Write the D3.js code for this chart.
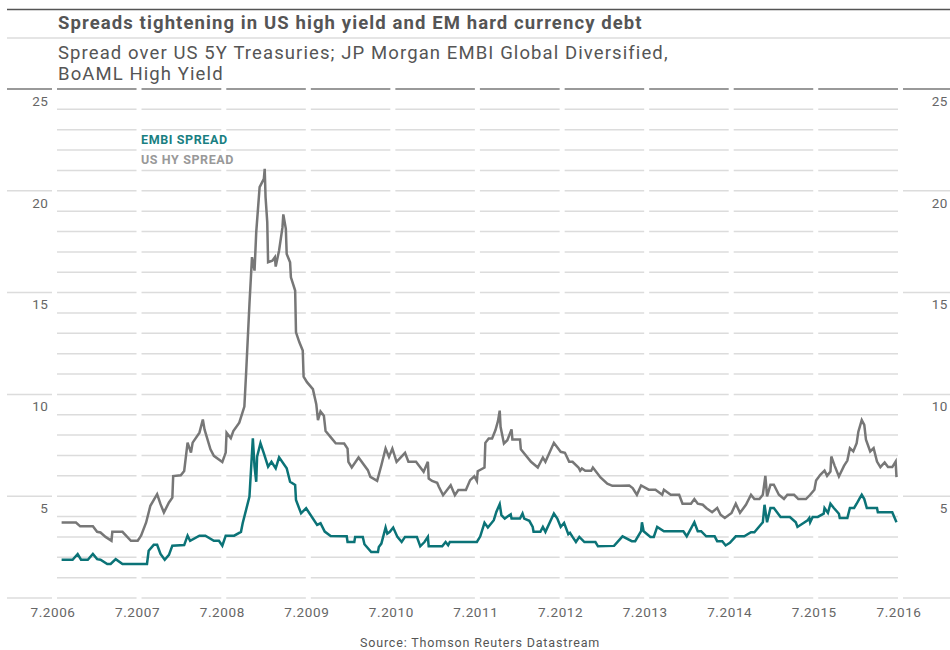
<!DOCTYPE html>
<html>
<head>
<meta charset="utf-8">
<script src="https://cdnjs.cloudflare.com/ajax/libs/d3/7.8.5/d3.min.js"></script>
<style>
  body { margin: 0; background: #fff; }
  svg text { font-family: Roboto, "Open Sans", sans-serif; }
</style>
</head>
<body>
<script>
// Data (decimal years, spread in %)
var hyDates = [2006.58, 2006.75, 2006.80, 2006.95, 2007.00, 2007.04, 2007.10, 2007.17, 2007.18, 2007.30,
  2007.40, 2007.48, 2007.52, 2007.58, 2007.63, 2007.71, 2007.75, 2007.79, 2007.85, 2007.89,
  2007.90, 2007.99, 2008.03, 2008.07, 2008.11, 2008.13, 2008.21, 2008.25, 2008.27, 2008.34,
  2008.38, 2008.48, 2008.52, 2008.53, 2008.58, 2008.61, 2008.68, 2008.74, 2008.76, 2008.80,
  2008.83, 2008.86, 2008.88, 2008.92, 2008.97, 2008.98, 2008.99, 2009.01, 2009.02, 2009.07,
  2009.10, 2009.11, 2009.15, 2009.19, 2009.20, 2009.23, 2009.24, 2009.28, 2009.29, 2009.34,
  2009.35, 2009.39, 2009.43, 2009.44, 2009.48, 2009.55, 2009.59, 2009.61, 2009.64, 2009.68,
  2009.70, 2009.76, 2009.82, 2009.92, 2009.96, 2009.97, 2010.01, 2010.09, 2010.20, 2010.23,
  2010.31, 2010.36, 2010.41, 2010.45, 2010.49, 2010.54, 2010.64, 2010.68, 2010.77, 2010.86,
  2010.91, 2010.92, 2010.96, 2011.02, 2011.04, 2011.09, 2011.18, 2011.23, 2011.27, 2011.36,
  2011.41, 2011.46, 2011.49, 2011.50, 2011.58, 2011.59, 2011.63, 2011.67, 2011.71, 2011.74,
  2011.76, 2011.77, 2011.81, 2011.85, 2011.90, 2011.91, 2012.00, 2012.01, 2012.13, 2012.21,
  2012.27, 2012.30, 2012.40, 2012.48, 2012.53, 2012.58, 2012.62, 2012.69, 2012.71, 2012.73,
  2012.77, 2012.84, 2012.86, 2012.95, 2013.03, 2013.09, 2013.19, 2013.29, 2013.33, 2013.38,
  2013.43, 2013.52, 2013.60, 2013.68, 2013.70, 2013.78, 2013.88, 2013.92, 2014.02, 2014.06,
  2014.10, 2014.16, 2014.20, 2014.27, 2014.33, 2014.37, 2014.42, 2014.50, 2014.55, 2014.60,
  2014.67, 2014.73, 2014.77, 2014.83, 2014.87, 2014.90, 2014.92, 2014.96, 2015.00, 2015.06,
  2015.12, 2015.16, 2015.24, 2015.29, 2015.38, 2015.43, 2015.48, 2015.50, 2015.55, 2015.60,
  2015.63, 2015.67, 2015.68, 2015.72, 2015.77, 2015.83, 2015.87, 2015.90, 2015.94, 2015.98,
  2016.00, 2016.04, 2016.07, 2016.09, 2016.14, 2016.18, 2016.22, 2016.26, 2016.31, 2016.35,
  2016.40, 2016.44, 2016.45];
var hySpread = [3.71, 3.71, 3.52, 3.52, 3.25, 3.22, 3.0, 2.81, 3.25, 3.25,
  2.81, 2.81, 3.06, 3.71, 4.53, 5.10, 4.61, 4.20, 4.69, 4.93,
  5.99, 6.03, 6.24, 7.63, 7.14, 7.63, 8.12, 8.77, 8.28, 7.30,
  6.98, 6.68, 7.14, 8.12, 7.85, 8.2, 8.61, 9.4, 11.0, 14.44,
  16.74, 16.08, 17.97, 20.18, 20.59, 21.08, 19.69, 18.46, 16.49, 16.57,
  16.74, 16.28, 17.07, 18.2, 18.84, 18.13, 16.9, 16.49, 15.75, 15.1,
  13.05, 12.56, 12.15, 10.87, 10.6, 10.26, 9.52, 8.74, 9.16, 8.95,
  8.2, 7.9, 7.6, 7.59, 7.34, 6.69, 6.41, 6.9, 6.28, 5.95,
  5.75, 6.52, 7.34, 6.93, 7.34, 6.69, 7.13, 6.69, 6.69, 6.2,
  6.69, 5.87, 5.75, 5.66, 5.46, 5.05, 5.54, 5.05, 5.3, 5.3,
  5.79, 5.98, 5.75, 6.23, 6.41, 7.62, 7.84, 7.84, 8.25, 8.7,
  9.2, 8.41, 7.59, 7.75, 8.28, 7.79, 7.79, 7.3, 6.69, 6.41,
  6.9, 6.69, 7.62, 7.18, 7.13, 6.69, 6.69, 6.41, 6.25, 6.36,
  6.25, 6.25, 6.41, 5.92, 5.62, 5.51, 5.51, 5.53, 5.4, 5.07,
  5.53, 5.32, 5.32, 5.07, 5.32, 5.07, 5.07, 4.63, 4.63, 4.86,
  4.63, 4.58, 4.42, 4.21, 4.42, 4.09, 3.93, 4.18, 4.63, 4.18,
  4.58, 5.07, 4.86, 4.86, 5.07, 6.0, 4.99, 5.56, 5.56, 5.07,
  4.86, 5.07, 5.07, 4.86, 4.86, 5.07, 5.32, 5.77, 6.05, 6.26,
  6.0, 6.21, 6.95, 6.49, 5.97, 6.49, 6.75, 7.36, 7.2, 7.6,
  8.17, 8.74, 8.5, 7.77, 7.2, 7.36, 6.7, 6.43, 6.66, 6.43,
  6.43, 6.7, 5.94];

var embiDates = [2006.58, 2006.71, 2006.77, 2006.81, 2006.89, 2006.95, 2007.00, 2007.04, 2007.12, 2007.16,
  2007.22, 2007.30, 2007.59, 2007.61, 2007.67, 2007.71, 2007.75, 2007.80, 2007.85, 2007.89,
  2008.03, 2008.07, 2008.10, 2008.21, 2008.28, 2008.38, 2008.44, 2008.48, 2008.52, 2008.62,
  2008.70, 2008.72, 2008.80, 2008.84, 2008.86, 2008.88, 2008.89, 2008.93, 2008.97, 2009.02,
  2009.06, 2009.11, 2009.15, 2009.24, 2009.28, 2009.34, 2009.35, 2009.41, 2009.47, 2009.60,
  2009.64, 2009.69, 2009.76, 2009.95, 2009.96, 2010.04, 2010.05, 2010.14, 2010.16, 2010.24,
  2010.32, 2010.33, 2010.36, 2010.41, 2010.43, 2010.46, 2010.50, 2010.55, 2010.60, 2010.64,
  2010.78, 2010.82, 2010.87, 2010.91, 2010.92, 2011.08, 2011.12, 2011.15, 2011.17, 2011.49,
  2011.53, 2011.58, 2011.62, 2011.69, 2011.72, 2011.76, 2011.78, 2011.82, 2011.89, 2011.90,
  2012.00, 2012.03, 2012.05, 2012.11, 2012.15, 2012.16, 2012.24, 2012.27, 2012.30, 2012.40,
  2012.44, 2012.48, 2012.52, 2012.57, 2012.59, 2012.62, 2012.66, 2012.70, 2012.76, 2012.89,
  2012.92, 2013.11, 2013.21, 2013.32, 2013.36, 2013.43, 2013.44, 2013.46, 2013.54, 2013.58,
  2013.62, 2013.70, 2013.93, 2013.97, 2014.06, 2014.10, 2014.14, 2014.20, 2014.30, 2014.33,
  2014.39, 2014.43, 2014.48, 2014.55, 2014.65, 2014.73, 2014.77, 2014.87, 2014.89, 2014.92,
  2014.96, 2015.00, 2015.08, 2015.19, 2015.26, 2015.28, 2015.40, 2015.42, 2015.43, 2015.46,
  2015.52, 2015.59, 2015.60, 2015.64, 2015.67, 2015.71, 2015.77, 2015.78, 2015.87, 2015.90,
  2015.95, 2015.98, 2016.01, 2016.04, 2016.07, 2016.10, 2016.22, 2016.23, 2016.40, 2016.45];
var embiSpread = [1.88, 1.88, 2.16, 1.88, 1.88, 2.16, 1.91, 1.88, 1.67, 1.67,
  1.91, 1.67, 1.67, 2.32, 2.61, 2.61, 2.16, 1.88, 2.12, 2.57,
  2.6, 3.06, 2.81, 3.06, 3.06, 2.81, 2.81, 2.57, 3.06, 3.06,
  3.25, 3.67, 4.98, 7.84, 6.45, 5.71, 6.94, 7.6, 7.1, 6.45,
  6.69, 6.37, 6.91, 6.37, 5.71, 5.55, 4.81, 4.16, 4.41, 3.59,
  3.67, 3.26, 3.05, 3.03, 2.75, 2.75, 3.0, 3.0, 2.64, 2.26,
  2.26, 2.51, 2.67, 3.46, 3.16, 3.25, 3.46, 3.0, 2.75, 3.0,
  3.0, 2.54, 2.75, 3.0, 2.54, 2.54, 2.75, 2.59, 2.75, 2.75,
  3.03, 3.69, 3.46, 3.82, 4.23, 4.61, 4.07, 3.9, 4.11, 3.9,
  3.9, 4.15, 3.9, 3.79, 3.49, 3.25, 3.25, 3.49, 3.25, 4.15,
  3.9, 3.49, 3.69, 3.13, 3.2, 3.0, 2.75, 3.0, 2.75, 2.75,
  2.54, 2.56, 3.03, 2.79, 2.79, 3.28, 3.72, 3.28, 3.0, 3.0,
  3.49, 3.28, 3.28, 3.03, 3.72, 3.28, 3.28, 3.03, 3.03, 2.79,
  2.79, 2.58, 2.71, 3.03, 3.03, 3.23, 3.23, 3.72, 4.58, 3.72,
  4.42, 4.42, 3.98, 3.98, 3.72, 3.49, 3.82, 3.93, 3.72, 3.98,
  3.98, 4.14, 4.42, 4.18, 4.63, 4.42, 4.14, 3.93, 3.93, 4.42,
  4.42, 4.63, 4.86, 5.07, 4.86, 4.42, 4.42, 4.21, 4.21, 3.72];

var yTickValues = [5, 10, 15, 20, 25];
var xTickYears = [2006, 2007, 2008, 2009, 2010, 2011, 2012, 2013, 2014, 2015, 2016];

// decimal year -> Date
function toDate(d) {
  var yr = Math.floor(d);
  var a = new Date(yr, 0, 1), b = new Date(yr + 1, 0, 1);
  return new Date(+a + (d - yr) * (b - a));
}

var svgWidth = 950;
var svgHeight = 650;

var svg = d3.select("body")
  .append("svg")
  .attr("width", svgWidth)
  .attr("height", svgHeight);

var xScale = d3.scaleTime()
  .domain([new Date(2006, 6, 1), new Date(2016, 6, 1)])
  .range([54.5, 900.5]);

var yScale = d3.scaleLinear()
  .domain([0, 25])
  .range([598, 89]);

var tickDates = xTickYears.map(function(yr) { return new Date(yr, 6, 1); });
var tickX = tickDates.map(xScale);

// header rules and titles
svg.append("line").attr("x1", 7).attr("x2", 950).attr("y1", 9.5).attr("y2", 9.5)
  .attr("stroke", "#555").attr("stroke-width", 1.5);
svg.append("line").attr("x1", 7).attr("x2", 950).attr("y1", 38).attr("y2", 38)
  .attr("stroke", "#ddd").attr("stroke-width", 1.5);

svg.append("text").attr("x", 58).attr("y", 28.5)
  .attr("font-size", 18.5).attr("font-weight", "bold").attr("fill", "#555")
  .attr("letter-spacing", 1.1)
  .text("Spreads tightening in US high yield and EM hard currency debt");

svg.append("text").attr("x", 58).attr("y", 58.5)
  .attr("font-size", 18.5).attr("fill", "#555").attr("letter-spacing", 1.1)
  .text("Spread over US 5Y Treasuries; JP Morgan EMBI Global Diversified,");
svg.append("text").attr("x", 58).attr("y", 79.5)
  .attr("font-size", 18.5).attr("fill", "#555").attr("letter-spacing", 1.1)
  .text("BoAML High Yield");

// gridlines, broken at each year tick
var gridGroup = svg.append("g");
d3.range(0, 26).forEach(function(v) {
  var segs = [];
  for (var i = 0; i < tickX.length - 1; i++) {
    segs.push([tickX[i] + 2.5, tickX[i + 1] - 2.5]);
  }
  if (v % 5 === 0) {
    segs.unshift([7, tickX[0] - 2.5]);
    segs.push([tickX[tickX.length - 1] + 2.5, 950]);
  }
  gridGroup.selectAll(null)
    .data(segs)
    .enter()
    .append("line")
    .attr("x1", function(s) { return s[0]; })
    .attr("x2", function(s) { return s[1]; })
    .attr("y1", yScale(v))
    .attr("y2", yScale(v))
    .attr("stroke", v === 25 ? "#999" : "#dcdcdc")
    .attr("stroke-width", v === 25 ? 2 : 1.5);
});

// axes
var yAxisLeft = d3.axisLeft(yScale).tickValues(yTickValues).tickSize(0).tickPadding(6);
var yAxisRight = d3.axisLeft(yScale).tickValues(yTickValues).tickSize(0).tickPadding(0);
var xAxis = d3.axisBottom(xScale).tickValues(tickDates)
  .tickFormat(d3.timeFormat("%-m.%Y")).tickSize(0).tickPadding(9);

function styleAxis(g) {
  g.select(".domain").remove();
  g.selectAll("text").attr("fill", "#666").attr("font-size", 13.5)
    .attr("font-family", "Roboto, sans-serif").attr("letter-spacing", 0.6);
}

svg.append("g").attr("transform", "translate(54.5,0)").call(yAxisLeft).call(styleAxis)
  .selectAll("text").attr("y", 12);
svg.append("g").attr("transform", "translate(948,0)").call(yAxisRight).call(styleAxis)
  .selectAll("text").attr("y", 12);
svg.append("g").attr("transform", "translate(0,598)").call(xAxis).call(styleAxis)
  .selectAll("text").attr("x", -2);

// lines
var hyData = hyDates.map(function(d, i) { return { date: toDate(d), value: hySpread[i] }; });
var embiData = embiDates.map(function(d, i) { return { date: toDate(d), value: embiSpread[i] }; });

var line = d3.line()
  .x(function(d) { return xScale(d.date); })
  .y(function(d) { return yScale(d.value); });

svg.append("path").datum(hyData)
  .attr("d", line).attr("fill", "none")
  .attr("stroke", "#777").attr("stroke-width", 2.5).attr("stroke-linejoin", "miter");

svg.append("path").datum(embiData)
  .attr("d", line).attr("fill", "none")
  .attr("stroke", "#0b7377").attr("stroke-width", 2.5).attr("stroke-linejoin", "miter");

// legend
svg.append("text").attr("x", 141).attr("y", 143.5)
  .attr("font-size", 12.5).attr("font-weight", "bold").attr("fill", "#1a7f82")
  .attr("letter-spacing", 0.6)
  .text("EMBI SPREAD");
svg.append("text").attr("x", 141).attr("y", 163.5)
  .attr("font-size", 12.5).attr("font-weight", "bold").attr("fill", "#999")
  .attr("letter-spacing", 0.6)
  .text("US HY SPREAD");

// source
svg.append("text").attr("x", 480).attr("y", 646.5)
  .attr("text-anchor", "middle").attr("font-size", 12.5).attr("fill", "#555")
  .attr("letter-spacing", 0.85)
  .text("Source: Thomson Reuters Datastream");
</script>
</body>
</html>
